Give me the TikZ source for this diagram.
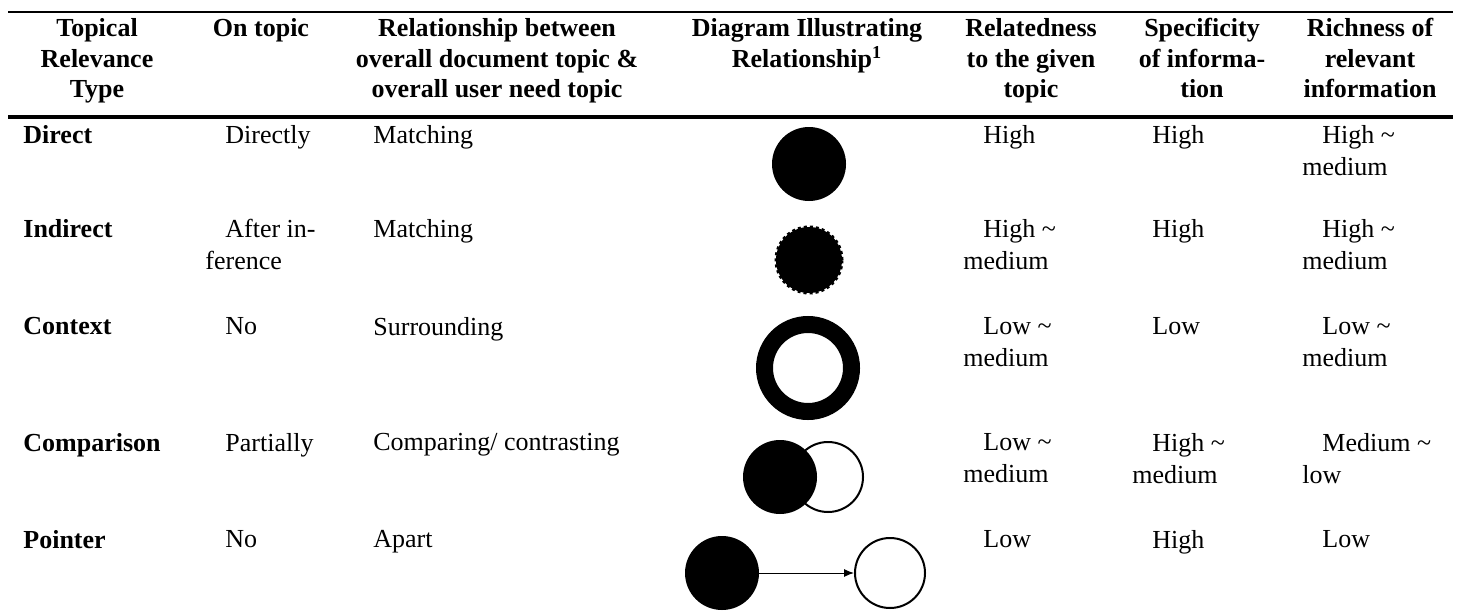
\documentclass[tikz,border=0pt]{standalone}
\usepackage{fontspec}
\setmainfont{Liberation Serif}
\usetikzlibrary{arrows.meta}
\tikzset{
cell/.style={anchor=north west, inner sep=0pt, align=left, font=\fontsize{13}{15.8}\selectfont},
kind/.style={cell, font=\fontsize{13}{15.8}\selectfont\bfseries},
head/.style={anchor=north, inner sep=0pt, align=center, font=\fontsize{13}{15.3}\selectfont\bfseries},
blob/.style={circle, fill=black, inner sep=0pt, minimum size=37pt},
hollow/.style={circle, draw=black, fill=white, line width=1pt, inner sep=0pt, minimum size=35pt},
}
\newcommand{\ind}{\hspace*{10pt}}

\begin{document}
\begin{tikzpicture}
    [x=0.5pt, y=-0.5pt,
    ring/.style={circle, draw=black, line width=8.5pt, inner sep=0pt, minimum size=43.5pt},
    fuzzy/.style={circle, fill=black, draw=black, line width=1.5pt, dash pattern=on 1.5pt off 1.5pt, inner sep=0pt, minimum size=33pt}
    ]
    \useasboundingbox (0,0) rectangle (1460,615);

    % rules
    \draw[line width=1.25pt] (8,12) -- (1453,12);
    \draw[line width=1.6pt] (8,117) -- (1453,117);

    % header
    \node [head] (hType) at (97,18) {Topical\\Relevance\\Type};
    \node [head] (hOn) at (261,18) {On topic};
    \node [head] (hRel) at (497,18) {Relationship between\\overall document topic \&\\overall user need topic};
    \node [head] (hDiag) at (807,18) {Diagram Illustrating\\Relationship\textsuperscript{1}};
    \node [head] (hRelated) at (1031,18) {Relatedness\\to the given\\topic};
    \node [head] (hSpec) at (1202,18) {Specificity\\of informa-\\tion};
    \node [head] (hRich) at (1370,18) {Richness of\\relevant\\information};

    % direct
    \node [kind] (tDirect) at (23,125) {Direct};
    \node [cell] (oDirect) at (205,125) {\ind Directly};
    \node [cell] (rDirect) at (373,125) {Matching};
    \node [cell] (aDirect) at (963,125) {\ind High};
    \node [cell] (sDirect) at (1132,125) {\ind High};
    \node [cell] (cDirect) at (1302,125) {\ind High \textasciitilde\\medium};
    \node [blob] (gDirect) at (809,164) {};

    % indirect
    \node [kind] (tIndirect) at (23,219) {Indirect};
    \node [cell] (oIndirect) at (205,219) {\ind After in-\\ference};
    \node [cell] (rIndirect) at (373,219) {Matching};
    \node [cell] (aIndirect) at (963,219) {\ind High \textasciitilde\\medium};
    \node [cell] (sIndirect) at (1132,219) {\ind High};
    \node [cell] (cIndirect) at (1302,219) {\ind High \textasciitilde\\medium};
    \node [fuzzy] (gIndirect) at (809,260) {};

    % context
    \node [kind] (tContext) at (23,317) {Context};
    \node [cell] (oContext) at (205,317) {\ind No};
    \node [cell] (rContext) at (373,317) {Surrounding};
    \node [cell] (aContext) at (963,317) {\ind Low \textasciitilde\\medium};
    \node [cell] (sContext) at (1132,317) {\ind Low};
    \node [cell] (cContext) at (1302,317) {\ind Low \textasciitilde\\medium};
    \node [ring] (gContext) at (808,368) {};

    % comparison
    \node [kind] (tCompare) at (23,433) {Comparison};
    \node [cell] (oCompare) at (205,433) {\ind Partially};
    \node [cell] (rCompare) at (373,433) {Comparing/ contrasting};
    \node [cell] (aCompare) at (963,433) {\ind Low \textasciitilde\\medium};
    \node [cell] (sCompare) at (1132,433) {\ind High \textasciitilde\\medium};
    \node [cell] (cCompare) at (1302,433) {\ind Medium \textasciitilde\\low};
    \node [hollow] (gCompareB) at (828,477) {};
    \node [blob] (gCompareA) at (780,477) {};

    % pointer
    \node [kind] (tPointer) at (23,530) {Pointer};
    \node [cell] (oPointer) at (205,530) {\ind No};
    \node [cell] (rPointer) at (373,530) {Apart};
    \node [cell] (aPointer) at (963,530) {\ind Low};
    \node [cell] (sPointer) at (1132,530) {\ind High};
    \node [cell] (cPointer) at (1302,530) {\ind Low};
    \node [blob] (gPointerA) at (722,573) {};
    \node [hollow] (gPointerB) at (890,573) {};

    \draw[-{Latex[length=5pt,width=4pt]}, line width=0.5pt] (gPointerA) -- (gPointerB);

\end{tikzpicture}
\end{document}
